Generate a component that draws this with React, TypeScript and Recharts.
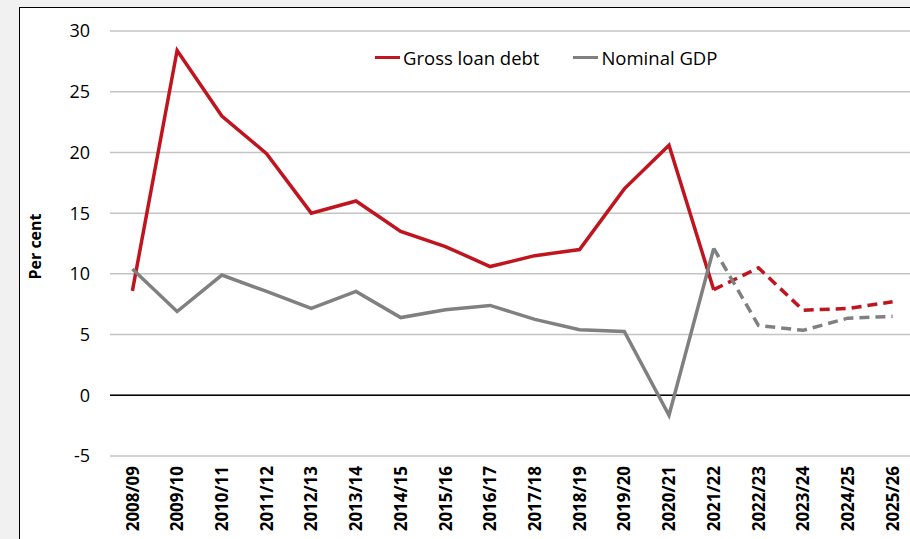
import React from "react";
import {
  LineChart,
  Line,
  XAxis,
  YAxis,
  CartesianGrid,
  ReferenceLine,
  Legend,
} from "recharts";

const years = [
  "2008/09", "2009/10", "2010/11", "2011/12", "2012/13", "2013/14",
  "2014/15", "2015/16", "2016/17", "2017/18", "2018/19", "2019/20",
  "2020/21", "2021/22", "2022/23", "2023/24", "2024/25", "2025/26",
];

// gross loan debt growth, per cent
const debtGrowth = [
  8.6, 28.4, 23.0, 19.9, 15.0, 16.0, 13.5, 12.25, 10.6, 11.5, 12.0, 17.0,
  20.6, 8.7, 10.5, 7.0, 7.15, 7.7,
];

// nominal GDP growth, per cent
const gdpGrowth = [
  10.4, 6.9, 9.9, 8.55, 7.15, 8.55, 6.4, 7.05, 7.4, 6.25, 5.4, 5.25,
  -1.65, 12.1, 5.75, 5.35, 6.35, 6.5,
];

// first year drawn dashed (forecast)
const forecastStart = 13;

const yTicks = [-5, 0, 5, 10, 15, 20, 25, 30];

const RED = "#c0141f";
const GREY = "#808080";
const FONT = "'Open Sans', sans-serif";

const data = years.map((year, i) => ({
  year,
  debt: i <= forecastStart ? debtGrowth[i] : null,
  debtF: i >= forecastStart ? debtGrowth[i] : null,
  gdp: i <= forecastStart ? gdpGrowth[i] : null,
  gdpF: i >= forecastStart ? gdpGrowth[i] : null,
}));

const legendItems = [
  { name: "Gross loan debt", color: RED },
  { name: "Nominal GDP", color: GREY },
];

const YearTick = (props: any) => {
  const { x, y, payload } = props;
  return (
    <g transform={`translate(${x},${y})`}>
      <text
        transform="rotate(-90)"
        textAnchor="end"
        dy="0.36em"
        fontFamily={FONT}
        fontSize={17}
        fontWeight={700}
        fill="#000"
      >
        {payload.value}
      </text>
    </g>
  );
};

const renderLegend = () => (
  <div style={{ display: "flex", fontFamily: FONT, fontSize: 18.5, color: "#000", whiteSpace: "nowrap" }}>
    {legendItems.map((item) => (
      <div key={item.name} style={{ display: "flex", alignItems: "center", marginRight: 34 }}>
        <span style={{ display: "inline-block", width: 25, height: 3.5, background: item.color, marginRight: 3 }} />
        <span>{item.name}</span>
      </div>
    ))}
  </div>
);

export default function App() {
  return (
    <div
      style={{
        position: "absolute",
        left: 0,
        top: 0,
        width: 910,
        height: 539,
        overflow: "hidden",
        background: "#f0f1f0",
      }}
    >
      <div
        style={{
          position: "absolute",
          left: 19,
          top: 7,
          width: 940,
          height: 600,
          border: "1.5px solid #000",
          background: "#fff",
        }}
      >
        <LineChart
          width={900}
          height={560}
          data={data}
          margin={{ top: 23, right: 5, bottom: 12, left: 0 }}
        >
          <CartesianGrid vertical={false} stroke="#c4c4c4" strokeWidth={1.5} />
          <XAxis
            dataKey="year"
            interval={0}
            padding={{ left: 22.4, right: 22.4 }}
            axisLine={false}
            tickLine={false}
            tickSize={0}
            tickMargin={10}
            height={100}
            tick={<YearTick />}
          />
          <YAxis
            domain={[-5, 30]}
            ticks={yTicks}
            width={90}
            axisLine={false}
            tickLine={false}
            tickSize={0}
            tickMargin={20}
            tick={{ fontFamily: FONT, fontSize: 18, fill: "#000" }}
            label={{
              value: "Per cent",
              angle: -90,
              position: "insideLeft",
              offset: 15,
              dy: 3,
              style: { fontFamily: FONT, fontSize: 16, fontWeight: 700, fill: "#000", textAnchor: "middle" },
            }}
          />
          <ReferenceLine y={0} stroke="#000" strokeWidth={1.5} />
          <Legend
            layout="horizontal"
            verticalAlign="middle"
            align="center"
            content={renderLegend}
            wrapperStyle={{ position: "absolute", left: 355, top: 37, width: "auto" }}
          />
          <Line dataKey="debt" stroke={RED} strokeWidth={3.5} dot={false} isAnimationActive={false} />
          <Line dataKey="debtF" stroke={RED} strokeWidth={3.5} strokeDasharray="10 6" dot={false} isAnimationActive={false} />
          <Line dataKey="gdp" stroke={GREY} strokeWidth={3.5} dot={false} isAnimationActive={false} />
          <Line dataKey="gdpF" stroke={GREY} strokeWidth={3.5} strokeDasharray="10 6" dot={false} isAnimationActive={false} />
        </LineChart>
      </div>
    </div>
  );
}
